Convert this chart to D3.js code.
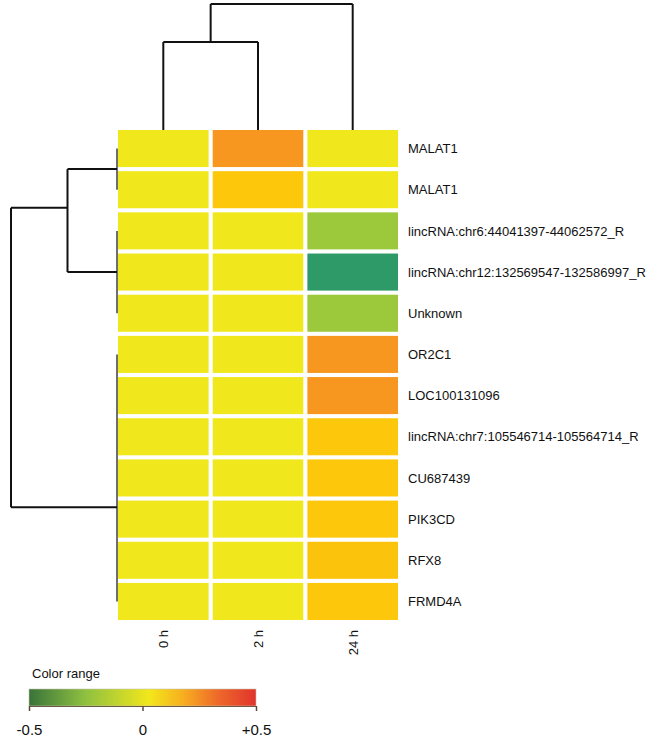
<!DOCTYPE html>
<html>
<head>
<meta charset="utf-8">
<script src="https://cdn.jsdelivr.net/npm/d3@7"></script>
<style>
  html, body { margin: 0; padding: 0; background: #fff; }
  svg { display: block; font-family: "Liberation Sans", Arial, sans-serif; }
</style>
</head>
<body>
<svg id="chart" width="659" height="739"></svg>
<script>
// ---- data ----
const rowLabels = ["MALAT1", "MALAT1", "lincRNA:chr6:44041397-44062572_R",
  "lincRNA:chr12:132569547-132586997_R", "Unknown", "OR2C1", "LOC100131096",
  "lincRNA:chr7:105546714-105564714_R", "CU687439", "PIK3CD", "RFX8", "FRMD4A"];
const colLabels = ["0 h", "2 h", "24 h"];
const values0h  = [0, 0, 0, 0, 0, 0, 0, 0, 0, 0, 0, 0];
const values2h  = [0.2, 0.1, 0, 0, 0, 0, 0, 0, 0, 0, 0, 0];
const values24h = [0, 0, -0.2, -0.4, -0.2, 0.2, 0.2, 0.1, 0.1, 0.1, 0.11, 0.1];
const cellStops  = [-0.4, -0.2, 0, 0.1, 0.2];
const cellColors = ["#2e9a68", "#9cc93c", "#f0e81c", "#fdc80b", "#f7971f"];

// row dendrogram: pos in row-index units, height relative to root
const rowNodes = [
  { id: "r01",  pos: 0.5,  height: 0,     children: [0, 1] },
  { id: "r234", pos: 3,    height: 0,     children: [2, 3, 4] },
  { id: "rBot", pos: 8.71, height: 0,     children: [5, 6, 7, 8, 9, 10, 11] },
  { id: "rTop", pos: 1.44, height: 0.467, children: ["r01", "r234"] },
  { id: "root", pos: 5,    height: 1,     children: ["rTop", "rBot"] }
];
// column dendrogram
const colNodes = [
  { id: "c01",  pos: 0.5, height: 0.698, children: [0, 1] },
  { id: "root", pos: 1.25, height: 1,    children: ["c01", 2] }
];

const legendTicks = [-0.5, 0, 0.5];
const legendTickText = ["-0.5", "0", "+0.5"];
const legendOffsets = [0, 0.25, 0.53, 0.68, 0.83, 1];
const legendColors  = ["#39733a", "#8fc140", "#f2e71b", "#f7ae1f", "#ee6a2a", "#e1332c"];

// ---- layout ----
const svg = d3.select("#chart");
const series = [values0h, values2h, values24h];

const x = d3.scaleBand().domain(d3.range(colLabels.length)).range([118, 398]).paddingInner(0.043);
const y = d3.scaleBand().domain(d3.range(rowLabels.length)).range([130, 620]).paddingInner(0.1);
const color = d3.scaleLinear().domain(cellStops).range(cellColors).clamp(true);

const rowPos = d3.scaleLinear().domain([0, rowLabels.length - 1])
  .range([y(0) + y.bandwidth() / 2, y(rowLabels.length - 1) + y.bandwidth() / 2]);
const colPos = d3.scaleLinear().domain([0, colLabels.length - 1])
  .range([x(0) + x.bandwidth() / 2, x(colLabels.length - 1) + x.bandwidth() / 2]);
const rowH = d3.scaleLinear().domain([0, 1]).range([117, 11]);
const colH = d3.scaleLinear().domain([0, 1]).range([130, 4]);

// cells
const cells = [];
series.forEach((vals, c) => vals.forEach((v, r) => cells.push({ r, c, v })));
svg.append("g").selectAll("rect").data(cells).join("rect")
  .attr("x", d => x(d.c)).attr("y", d => y(d.r))
  .attr("width", x.bandwidth()).attr("height", y.bandwidth())
  .attr("fill", d => color(d.v));

// row labels
svg.append("g").selectAll("text").data(rowLabels).join("text")
  .attr("x", 408).attr("y", (d, i) => y(i) + y.bandwidth() / 2)
  .attr("dy", "0.36em").attr("font-size", 13).attr("fill", "#111")
  .text(d => d);

// column labels
svg.append("g").selectAll("text").data(colLabels).join("text")
  .attr("transform", (d, i) => `translate(${colPos(i) + 5},630) rotate(-90)`)
  .attr("text-anchor", "end").attr("font-size", 13).attr("fill", "#111")
  .text(d => d);

// dendrogram helper
function drawDendro(nodes, posScale, hScale, horizontal) {
  const byId = {};
  nodes.forEach(n => byId[n.id] = n);
  const info = c => typeof c === "number" ? { pos: c, height: 0 } : byId[c];
  const g = svg.append("g").attr("fill", "none");
  nodes.forEach(n => {
    const ch = n.children.map(info);
    const pmin = d3.min(ch, c => c.pos), pmax = d3.max(ch, c => c.pos);
    const isLeafGroup = n.height === 0;
    const stroke = isLeafGroup ? "#4a4a4a" : "#111";
    const sw = isLeafGroup ? 1.6 : 2;
    if (horizontal) {
      g.append("line").attr("x1", hScale(n.height)).attr("x2", hScale(n.height))
        .attr("y1", posScale(pmin)).attr("y2", posScale(pmax))
        .attr("stroke", stroke).attr("stroke-width", sw);
      ch.forEach(c => {
        if (c.height !== n.height) {
          g.append("line").attr("x1", hScale(n.height)).attr("x2", hScale(c.height))
            .attr("y1", posScale(c.pos)).attr("y2", posScale(c.pos))
            .attr("stroke", "#111").attr("stroke-width", 2);
        }
      });
    } else {
      g.append("line").attr("y1", hScale(n.height)).attr("y2", hScale(n.height))
        .attr("x1", posScale(pmin)).attr("x2", posScale(pmax))
        .attr("stroke", "#111").attr("stroke-width", 2);
      ch.forEach(c => {
        g.append("line").attr("y1", hScale(n.height)).attr("y2", hScale(c.height))
          .attr("x1", posScale(c.pos)).attr("x2", posScale(c.pos))
          .attr("stroke", "#111").attr("stroke-width", 2);
      });
    }
  });
}
drawDendro(rowNodes, rowPos, rowH, true);
drawDendro(colNodes, colPos, colH, false);

// ---- legend ----
const defs = svg.append("defs");
const grad = defs.append("linearGradient").attr("id", "lg");
grad.selectAll("stop").data(legendOffsets).join("stop")
  .attr("offset", d => d).attr("stop-color", (d, i) => legendColors[i]);

const lx = d3.scaleLinear().domain([-0.5, 0.5]).range([29, 256]);
svg.append("text").attr("x", 32).attr("y", 678).attr("font-size", 13).attr("fill", "#111")
  .text("Color range");
svg.append("rect").attr("x", lx(-0.5)).attr("y", 689)
  .attr("width", lx(0.5) - lx(-0.5)).attr("height", 17)
  .attr("fill", "url(#lg)").attr("stroke", "#c9c2b0").attr("stroke-width", 0.6);

const axis = d3.axisBottom(lx).tickValues(legendTicks).tickSize(5).tickSizeOuter(0)
  .tickFormat((d, i) => legendTickText[i]);
const ag = svg.append("g").attr("transform", "translate(0,706)").call(axis);
ag.select(".domain").attr("stroke", "#6b5a48").attr("stroke-width", 1);
ag.selectAll(".tick line").attr("stroke", "#5a4a3a").attr("stroke-width", 1.5);
ag.selectAll(".tick text").attr("font-size", 15).attr("fill", "#111")
  .attr("y", 29).attr("dy", 0)
  .attr("font-family", "Liberation Sans, Arial, sans-serif");
</script>
</body>
</html>
